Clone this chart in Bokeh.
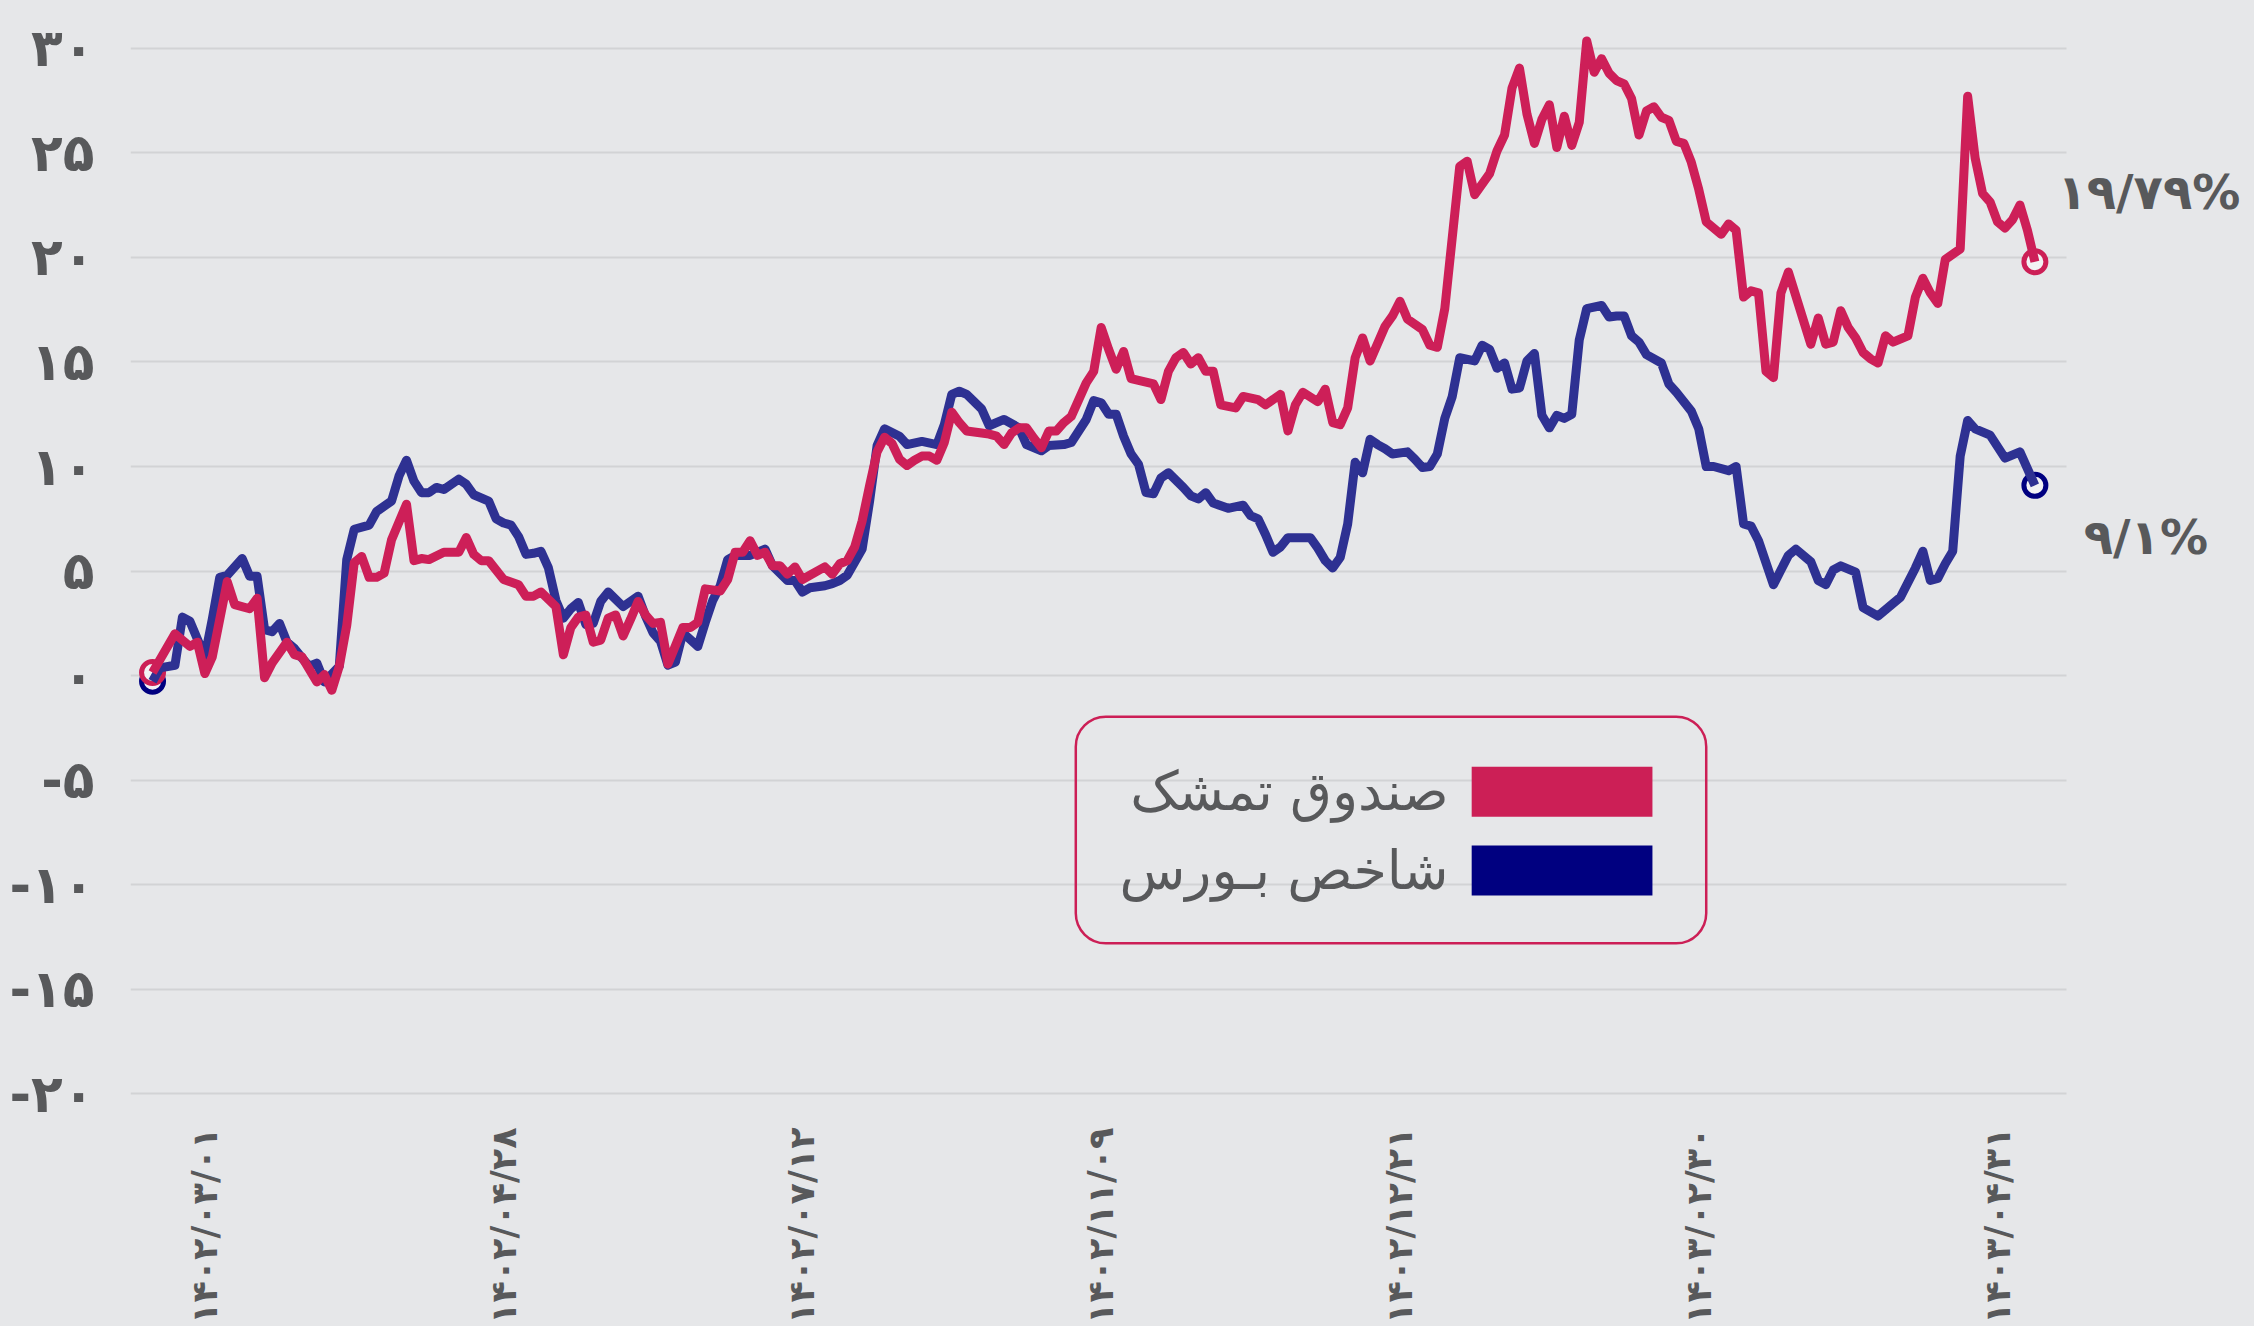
import math
from bokeh.plotting import figure
from bokeh.models import Range1d, FixedTicker, Label, BoxAnnotation
from bokeh.embed import file_html
from bokeh.resources import INLINE

# ---------------- data (trading-day index, cumulative return %) ----------------
fund_name = "صندوق تمشک"
index_name = "شاخص بـورس"

fund_days = [0, 3, 4, 5, 6, 7, 8, 10, 11, 13, 14, 15, 16, 18, 19, 20, 22, 23, 24, 25,
             26, 27, 28, 29, 30, 31, 32, 34, 35, 36, 37, 39, 41, 42, 43, 44, 45, 47, 49, 50,
             51, 52, 54, 55, 56, 57, 58, 59, 60, 61, 62, 63, 64, 65,
             66, 67, 68, 69, 71, 72, 73, 74, 76, 77, 78, 79, 80, 81, 82, 83, 84, 85, 86, 87,
             88, 90, 91, 92, 93, 94, 95, 96, 97, 98, 99, 100, 101, 102, 103, 104, 105, 106,
             107, 108, 109, 111, 112, 113, 114, 115, 116, 117, 118, 119, 120, 121, 122, 123,
             124, 125, 126, 127, 128, 129, 130,
             131, 134, 135, 136, 137, 138, 139, 140, 141, 142, 143, 145, 146, 148, 149, 151,
             152, 153, 154, 156, 157, 158, 159, 160, 161, 162, 163, 165, 166, 167, 168, 170,
             171, 172, 173, 175, 176, 177, 179, 180, 181, 182, 183, 184, 185, 186, 187, 188,
             189, 190, 191, 192, 193, 194, 195, 196,
             197, 198, 199, 200, 201, 202, 203, 204, 205, 206, 207, 208, 210, 211, 212, 213,
             214, 215, 216, 217, 218, 219, 221, 222, 223, 224, 225, 226, 227, 228, 229, 230,
             231, 232, 233, 235, 236, 237, 238, 239, 240, 242, 243, 244, 245, 246, 247, 248,
             249, 250, 251, 252]
fund_values = [0.15, 2.0, 1.7, 1.4, 1.6, 0.1, 0.9, 4.5, 3.4, 3.2, 3.7, -0.1, 0.6, 1.6, 1.0, 0.9, -0.3, 0.05, -0.7, 0.45,
               2.4, 5.4, 5.7, 4.7, 4.7, 4.9, 6.5, 8.2, 5.5, 5.6, 5.55, 5.9, 5.9, 6.6, 5.8, 5.5, 5.5, 4.6, 4.35, 3.8,
               3.8, 4.0, 3.3, 1.0, 2.3, 2.8, 2.9, 1.6, 1.7, 2.75, 2.9, 1.9, 2.7, 3.55,
               2.9, 2.5, 2.55, 0.55, 2.3, 2.3, 2.55, 4.15, 4.05, 4.6, 5.9, 5.9, 6.45, 5.75, 5.9, 5.25, 5.25, 4.85, 5.2, 4.6,
               4.8, 5.2, 4.85, 5.35, 5.5, 6.15, 7.4, 9.1, 10.7, 11.4, 11.1, 10.35, 10.05, 10.3, 10.5, 10.5, 10.3, 11.15,
               12.6, 12.1, 11.7, 11.6, 11.55, 11.45, 11.05, 11.6, 11.85, 11.85, 11.35, 10.9, 11.7, 11.7, 12.1, 12.4,
               13.2, 14.0, 14.55, 16.65, 15.6, 14.65, 15.5,
               14.2, 13.95, 13.2, 14.55, 15.2, 15.45, 14.9, 15.2, 14.55, 14.55, 12.95, 12.8, 13.35, 13.2, 12.95, 13.45,
               11.7, 12.95, 13.55, 13.1, 13.7, 12.1, 12.0, 12.8, 15.2, 16.15, 15.05, 16.7, 17.2, 17.9, 17.05, 16.55,
               15.8, 15.7, 17.55, 24.35, 24.6, 23.0, 24.0, 25.1, 25.85, 28.1, 29.05, 26.85, 25.45, 26.6, 27.3, 25.25,
               26.75, 25.35, 26.45, 30.35, 28.85, 29.5, 28.8, 28.45,
               28.3, 27.6, 25.85, 27.0, 27.2, 26.7, 26.55, 25.55, 25.45, 24.55, 23.25, 21.7, 21.1, 21.6, 21.3, 18.1,
               18.4, 18.3, 14.55, 14.25, 18.3, 19.3, 17.0, 15.85, 17.1, 15.85, 15.95, 17.45, 16.65, 16.15, 15.45, 15.15,
               14.95, 16.25, 15.95, 16.25, 18.1, 19.0, 18.3, 17.8, 19.9, 20.4, 27.7, 24.75, 23.05, 22.65, 21.7, 21.4,
               21.8, 22.5, 21.3, 19.79]

index_days = [0, 1, 3, 4, 5, 7, 8, 9, 10, 12, 13, 14, 15, 16, 17, 18, 19, 20, 21, 22,
              23, 25, 26, 27, 29, 30, 32, 33, 34, 35, 36, 37, 38, 39, 41, 42, 43, 45, 46, 47,
              48, 49, 50, 51, 52, 53, 54, 55, 56, 57, 58, 59, 60, 61, 63, 64, 65,
              66, 67, 68, 69, 70, 71, 73, 74, 75, 76, 77, 78, 80, 82, 83, 85, 86, 87, 88,
              90, 91, 92, 93, 95, 96, 97, 98, 100, 101, 103, 105, 106, 107, 108, 109, 111, 112,
              114, 116, 117, 119, 120, 122, 123, 124, 125, 126, 127, 128, 129, 130, 131,
              132, 133, 134, 135, 136, 138, 139, 140, 141, 142, 144, 146, 147, 148, 149, 150,
              151, 152, 155, 156, 157, 158, 159, 160, 161, 162, 163, 164, 165, 166, 168, 169,
              170, 171, 172, 173, 174, 175, 177, 178, 179, 180, 181, 182, 183, 184, 185, 186,
              187, 188, 189, 190, 191, 192, 194, 195, 196,
              197, 198, 199, 200, 202, 203, 204, 206, 207, 208, 209, 211, 212, 213, 214, 215,
              217, 218, 219, 220, 222, 223, 224, 225, 226, 228, 229, 231, 232, 233, 234, 236,
              237, 238, 239, 240, 241, 242, 243, 244, 246, 248, 250, 251, 252]
index_values = [-0.27, 0.37, 0.5, 2.8, 2.6, 0.9, 2.7, 4.7, 4.8, 5.6, 4.75, 4.75, 2.2, 2.1, 2.5, 1.6, 1.3, 0.85, 0.45, 0.6,
                -0.3, 0.45, 5.55, 7.0, 7.2, 7.85, 8.35, 9.55, 10.3, 9.3, 8.75, 8.75, 9.0, 8.9, 9.4, 9.15, 8.65, 8.35, 7.5, 7.3,
                7.2, 6.65, 5.8, 5.85, 5.95, 5.15, 3.6, 2.75, 3.2, 3.5, 2.45, 2.5, 3.55, 4.0, 3.3, 3.55, 3.8,
                2.85, 2.05, 1.65, 0.5, 0.65, 2.05, 1.4, 2.55, 3.6, 4.3, 5.55, 5.75, 5.75, 6.05, 5.25, 4.55, 4.55, 4.0, 4.2,
                4.3, 4.4, 4.55, 4.8, 6.05, 8.35, 11.0, 11.8, 11.45, 11.05, 11.2, 11.05, 12.0, 13.45, 13.6, 13.45, 12.75, 11.95,
                12.25, 11.85, 11.05, 10.75, 11.0, 11.05, 11.15, 11.7, 12.25, 13.15, 13.05, 12.5, 12.5, 11.45, 10.6,
                10.1, 8.75, 8.7, 9.45, 9.7, 9.0, 8.6, 8.45, 8.75, 8.25, 8.0, 8.15, 7.65, 7.5, 6.75, 5.9,
                6.15, 6.6, 6.6, 6.1, 5.5, 5.15, 5.65, 7.25, 10.2, 9.7, 11.3, 11.05, 10.85, 10.6, 10.7, 10.35,
                9.95, 10.0, 10.6, 12.3, 13.35, 15.2, 15.05, 15.8, 15.6, 14.7, 14.95, 13.7, 13.75, 15.05, 15.4, 12.45,
                11.85, 12.45, 12.3, 12.5, 16.05, 17.55, 17.7, 17.15, 17.2,
                17.2, 16.25, 15.95, 15.35, 14.95, 13.95, 13.55, 12.65, 11.8, 10.0, 10.0, 9.8, 10.0, 7.25, 7.15, 6.45,
                4.35, 5.05, 5.75, 6.05, 5.45, 4.55, 4.35, 5.05, 5.25, 4.95, 3.25, 2.85, 3.15, 3.45, 3.75, 5.15,
                5.95, 4.55, 4.65, 5.35, 5.95, 10.5, 12.2, 11.8, 11.5, 10.4, 10.7, 9.9, 9.1]

assert len(fund_days) == len(fund_values)
assert len(index_days) == len(index_values)

x_tick_days = [7, 47, 87, 127, 167, 207, 247]
x_tick_labels = ["۱۴۰۲/۰۳/۰۱", "۱۴۰۲/۰۴/۲۸", "۱۴۰۲/۰۷/۱۲", "۱۴۰۲/۱۱/۰۹",
                 "۱۴۰۲/۱۲/۲۱", "۱۴۰۳/۰۲/۳۰", "۱۴۰۳/۰۴/۳۱"]
y_ticks = [-20, -15, -10, -5, 0, 5, 10, 15, 20, 25, 30]
y_tick_labels = ["-۲۰", "-۱۵", "-۱۰", "-۵", "۰", "۵", "۱۰", "۱۵", "۲۰", "۲۵", "۳۰"]

fund_end_label = "۱۹/۷۹%"
index_end_label = "۹/۱%"

# ---------------- styles / layout ----------------
BG = "#E6E7E9"
GRID = "#D2D3D5"
TEXT = "#58595B"
FUND_LINE = "#CD1F58"
INDEX_LINE = "#2E3192"
FUND_MARK = "#CC1F56"
INDEX_MARK = "#000080"
FONT = "DejaVu Sans"

X_START, GRID_X_END, X_END = -2.95, 256.2, 281.4

p = figure(width=2254, height=1326, output_backend="svg", toolbar_location=None,
           x_range=Range1d(X_START, X_END), y_range=Range1d(-20.6, 30.8),
           min_border_left=130, min_border_right=0, min_border_top=31,
           min_border_bottom=218)
p.background_fill_color = BG
p.border_fill_color = BG
p.outline_line_color = None

p.xgrid.visible = False
if "cross_bounds" in p.ygrid.properties():
    p.ygrid.ticker = FixedTicker(ticks=y_ticks)
    p.ygrid.grid_line_color = GRID
    p.ygrid.grid_line_width = 2
    p.ygrid.cross_bounds = (X_START, GRID_X_END)
else:
    p.ygrid.visible = False
    p.segment(x0=[X_START] * len(y_ticks), x1=[GRID_X_END] * len(y_ticks),
              y0=y_ticks, y1=y_ticks, line_color=GRID, line_width=2)

p.yaxis.ticker = FixedTicker(ticks=y_ticks)
p.yaxis.major_label_overrides = {t: l for t, l in zip(y_ticks, y_tick_labels)}
p.xaxis.ticker = FixedTicker(ticks=x_tick_days)
p.xaxis.major_label_overrides = {t: l for t, l in zip(x_tick_days, x_tick_labels)}
p.xaxis.major_label_orientation = math.pi / 2

for ax in (p.xaxis, p.yaxis):
    ax.axis_line_color = None
    ax.major_tick_line_color = None
    ax.minor_tick_line_color = None
    ax.major_tick_out = 0
    ax.major_tick_in = 0
    ax.major_label_text_color = TEXT
    ax.major_label_text_font = FONT
    ax.major_label_text_font_style = "bold"

p.yaxis.major_label_text_font_size = "52px"
p.yaxis.major_label_standoff = 36
p.xaxis.major_label_text_font_size = "35px"
p.xaxis.major_label_standoff = 21

# markers at start and end of each series (drawn under the lines)
for days, vals, col in ((index_days, index_values, INDEX_MARK), (fund_days, fund_values, FUND_MARK)):
    p.scatter([days[0], days[-1]], [vals[0], vals[-1]], size=22, line_width=5,
              line_color=col, fill_color="#F2F2F4")

p.line(index_days, index_values, line_width=9, line_color=INDEX_LINE, line_join="round")
p.line(fund_days, fund_values, line_width=9, line_color=FUND_LINE, line_join="round")

# end-value labels
p.add_layout(Label(x=fund_days[-1], y=fund_values[-1], text=fund_end_label,
                   x_offset=114, y_offset=70, text_align="center", text_baseline="middle",
                   text_font=FONT, text_font_size="48px", text_font_style="bold",
                   text_color=TEXT))
p.add_layout(Label(x=index_days[-1], y=index_values[-1], text=index_end_label,
                   x_offset=111, y_offset=-52, text_align="center", text_baseline="middle",
                   text_font=FONT, text_font_size="48px", text_font_style="bold",
                   text_color=TEXT))

# legend box (label to the left of the swatch, right-to-left layout)
p.add_layout(BoxAnnotation(left=123.6, right=208.0, top=-1.96, bottom=-12.8,
                           fill_color=None, fill_alpha=0, line_color=FUND_MARK,
                           line_alpha=1, line_width=2.5, border_radius=30))
p.add_layout(BoxAnnotation(left=176.6, right=200.8, top=-4.35, bottom=-6.74,
                           fill_color=FUND_MARK, fill_alpha=1, line_color=None))
p.add_layout(BoxAnnotation(left=176.6, right=200.8, top=-8.12, bottom=-10.51,
                           fill_color=INDEX_MARK, fill_alpha=1, line_color=None))
p.add_layout(Label(x=173.5, y=-5.55, text=fund_name, text_align="right",
                   text_baseline="middle", text_font=FONT, text_font_size="54px",
                   text_color=TEXT))
p.add_layout(Label(x=173.5, y=-9.3, text=index_name, text_align="right",
                   text_baseline="middle", text_font=FONT, text_font_size="54px",
                   text_color=TEXT))

html = file_html(p, INLINE)
html = html.replace("<head>", "<head><style>html,body{background:%s;}</style>" % BG, 1)
open("out.html", "w").write(html)
